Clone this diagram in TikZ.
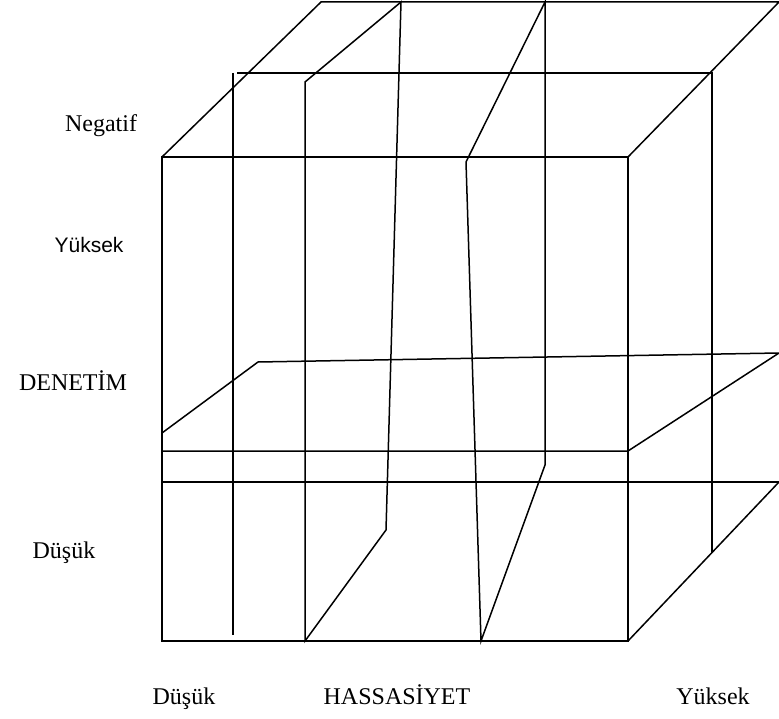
\documentclass[tikz,border=0pt]{standalone}
\usepackage{fontspec}
\setmainfont{Liberation Serif}
\newfontfamily\arialfont{Liberation Sans}
\usetikzlibrary{positioning}

\begin{document}
\begin{tikzpicture}[
    x=1pt, y=-1pt,
    edge/.style={line width=1.5pt, line join=miter},
    lbl/.style={font=\fontsize{24}{28}\selectfont, inner sep=0pt, anchor=base},
    sanslbl/.style={lbl, font=\arialfont\fontsize{21}{25}\selectfont}
  ]
    \useasboundingbox (0,0) rectangle (779,719);
    % outer cube
    \coordinate (frontTL) at (162,157);
    \coordinate (frontBR) at (628,641);
    \coordinate (frontTR) at (628,157);
    \coordinate (backTL) at (321,2);
    \coordinate (backTR) at (779,2);
    \coordinate (backBR) at (779,482);
    \coordinate (lowL) at (162,482);
    % middle frame
    \coordinate (midLtop) at (233,73);
    \coordinate (midLbot) at (233,635);
    \coordinate (midTL) at (237,73);
    \coordinate (midTR) at (712,73);
    \coordinate (midRbot) at (712,553);
    % first vertical plane
    \coordinate (pa1) at (305,641);
    \coordinate (pa2) at (305,82);
    \coordinate (pa3) at (401,2);
    \coordinate (pa4) at (386,530);
    % second vertical plane
    \coordinate (pb1) at (481,641);
    \coordinate (pb2) at (466,162);
    \coordinate (pb3) at (545,2);
    \coordinate (pb4) at (545,465);
    % horizontal plane
    \coordinate (ha1) at (162,433);
    \coordinate (ha2) at (258,362);
    \coordinate (ha3) at (779,353);
    \coordinate (ha4) at (628,451);
    \coordinate (ha5) at (162,451);

    \draw[edge] (frontTL) rectangle (frontBR);
    \draw[edge] (frontTL) -- (backTL) -- (backTR) -- (frontTR);
    \draw[edge] (frontBR) -- (backBR);
    \draw[edge] (lowL) -- (backBR);
    \draw[edge] (midLtop) -- (midLbot);
    \draw[edge] (midTL) -- (midTR) -- (midRbot);
    \draw[edge] (pa1) -- (pa2) -- (pa3) -- (pa4) -- cycle;
    \draw[edge] (pb1) -- (pb2) -- (pb3) -- (pb4) -- cycle;
    \draw[edge] (ha1) -- (ha2) -- (ha3) -- (ha4) -- (ha5);

    \node[lbl] (negatif) at (101,132) {Negatif};
    \node[sanslbl] (yuksekL) at (89,253) {Yüksek};
    \node[lbl] (denetim) at (73,390) {DENETİM};
    \node[lbl] (dusukL) at (64,558) {Düşük};
    \node[lbl] (dusukB) at (184,704) {Düşük};
    \node[lbl] (hassasiyet) at (397,704) {HASSASİYET};
    \node[lbl] (yuksekB) at (713,704) {Yüksek};
  \end{tikzpicture}
\end{document}
